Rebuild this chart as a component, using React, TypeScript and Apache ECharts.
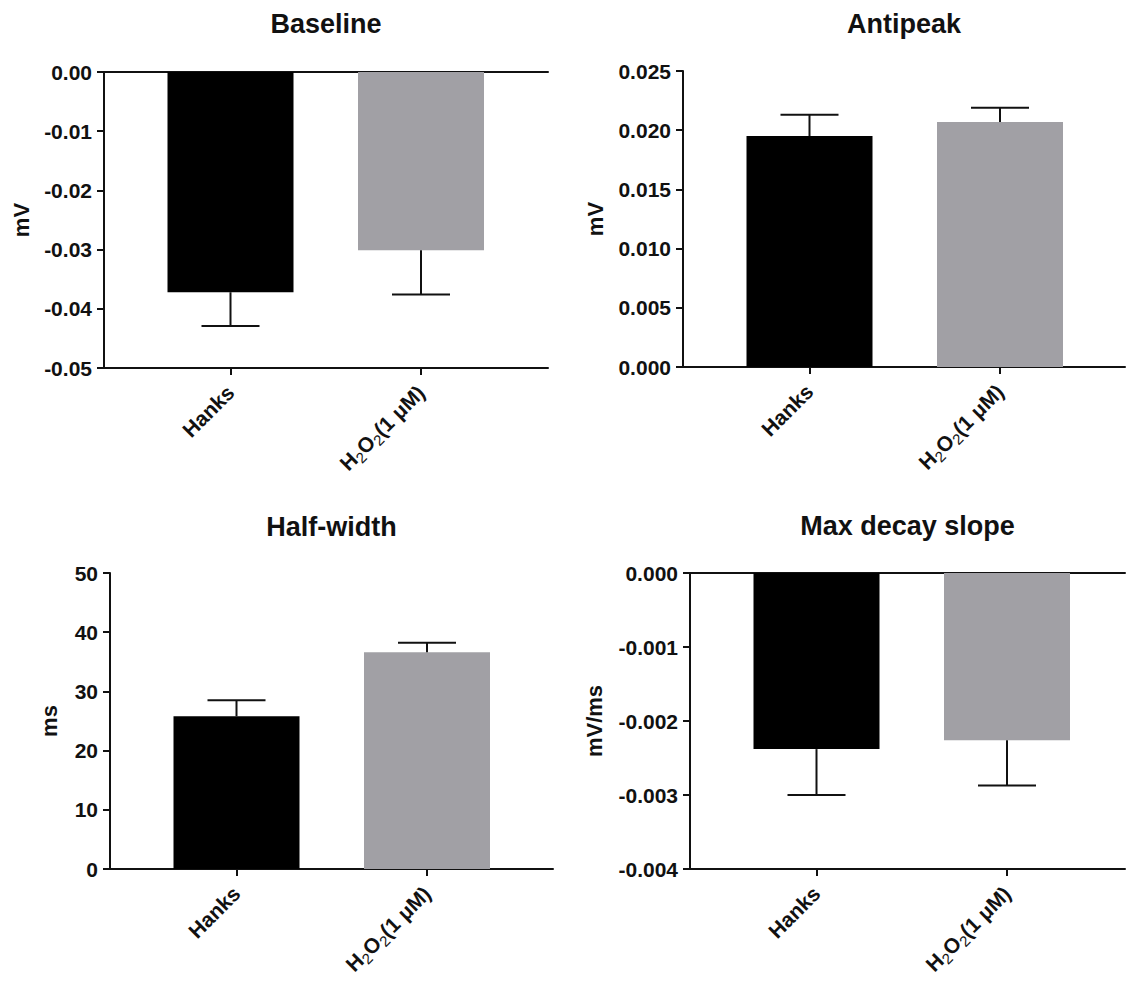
import React, { useEffect, useRef } from 'react';
import * as echarts from 'echarts';

// ---------- data ----------
const categories = ['Hanks', 'H₂O₂(1 μM)'];
const titles = ['Baseline', 'Antipeak', 'Half-width', 'Max decay slope'];
const units = ['mV', 'mV', 'ms', 'mV/ms'];
const baselineMean = [-0.0372, -0.0301];
const baselineSem = [0.0057, 0.0075];
const antipeakMean = [0.0195, 0.0207];
const antipeakSem = [0.0018, 0.0012];
const halfWidthMean = [25.8, 36.6];
const halfWidthSem = [2.7, 1.6];
const decayMean = [-0.00238, -0.00226];
const decaySem = [0.00062, 0.00061];
const yMins = [-0.05, 0, 0, -0.004];
const yMaxs = [0, 0.025, 50, 0];
const yIntervals = [0.01, 0.005, 10, 0.001];
const yDecimals = [2, 3, 0, 3];
const barColors = ['#000000', '#a1a0a5'];

const means = [baselineMean, antipeakMean, halfWidthMean, decayMean];
const sems = [baselineSem, antipeakSem, halfWidthSem, decaySem];

// ---------- layout ----------
const FONT = '"Liberation Sans", Arial, Helvetica, sans-serif';
const INK = '#111111';
const grids = [
  { left: 104, top: 72, width: 444, height: 296 },
  { left: 683, top: 71, width: 442, height: 296 },
  { left: 110, top: 573, width: 443, height: 296 },
  { left: 690, top: 573, width: 435, height: 296 },
];
const nameGaps = [72, 77, 50, 85];
const titleY = [24, 24, 527, 526];
const UNIT = 190.5; // px per category step
const LEAD = 126.5; // px from y axis to first category

function catLabel(v: number) {
  const name = categories[Math.round(v)] ?? '';
  return '{nm|' + name.replace(/₂/g, '}{sub|2}{nm|') + '}';
}

export default function App() {
  const ref = useRef<HTMLDivElement>(null);
  useEffect(() => {
    if (!ref.current) return;
    const chart = echarts.init(ref.current, undefined, { renderer: 'svg' });

    const xAxis: any[] = [];
    const yAxis: any[] = [];
    const series: any[] = [];
    const graphic: any[] = [];

    grids.forEach((g, i) => {
      const xMin = -LEAD / UNIT;
      const xMax = (g.width - LEAD) / UNIT;
      xAxis.push({
        type: 'value',
        gridIndex: i,
        min: xMin,
        max: xMax,
        position: 'bottom',
        axisLine: { show: true, onZero: false, lineStyle: { color: INK, width: 2 } },
        axisTick: {
          show: true,
          customValues: [0, 1],
          length: 7,
          lineStyle: { color: INK, width: 2 },
        },
        splitLine: { show: false },
        axisLabel: {
          customValues: [0, 1],
          rotate: 45,
          margin: 21,
          color: INK,
          fontSize: 21,
          fontWeight: 'bold',
          fontFamily: FONT,
          formatter: (v: number) => catLabel(v),
          rich: {
            nm: { fontSize: 21, fontWeight: 'bold', fontFamily: FONT, color: INK, lineHeight: 27 },
            sub: {
              fontSize: 15,
              fontWeight: 'normal',
              fontFamily: FONT,
              color: INK,
              lineHeight: 15,
              verticalAlign: 'bottom',
            },
          },
        },
      });
      yAxis.push({
        type: 'value',
        gridIndex: i,
        min: yMins[i],
        max: yMaxs[i],
        interval: yIntervals[i],
        name: units[i],
        nameLocation: 'middle',
        nameGap: nameGaps[i],
        nameTextStyle: { fontSize: 22, fontWeight: 'bold', fontFamily: FONT, color: INK },
        axisLine: { show: true, onZero: false, lineStyle: { color: INK, width: 2 } },
        axisTick: { show: true, length: 7, lineStyle: { color: INK, width: 2 } },
        splitLine: { show: false },
        axisLabel: {
          margin: 12,
          fontSize: 21,
          fontWeight: 'bold',
          fontFamily: FONT,
          color: INK,
          formatter: (v: number) => Math.abs(v) < 1e-12 ? (0).toFixed(yDecimals[i]) : v.toFixed(yDecimals[i]),
        },
      });
      series.push({
        type: 'bar',
        xAxisIndex: i,
        yAxisIndex: i,
        barWidth: 126,
        data: means[i].map((m, k) => ({ value: [k, m], itemStyle: { color: barColors[k] } })),
        z: 2,
      });
      series.push({
        type: 'custom',
        xAxisIndex: i,
        yAxisIndex: i,
        encode: { x: 0, y: 1 },
        data: means[i].map((m, k) => [k, m, sems[i][k]]),
        z: 3,
        renderItem: (params: any, api: any) => {
          const x = api.value(0);
          const m = api.value(1);
          const e = api.value(2);
          const end = m >= 0 ? m + e : m - e;
          const p0 = api.coord([x, m]);
          const p1 = api.coord([x, end]);
          const st = { stroke: INK, lineWidth: 2 };
          return {
            type: 'group',
            children: [
              { type: 'line', shape: { x1: p0[0], y1: p0[1], x2: p1[0], y2: p1[1] }, style: st },
              { type: 'line', shape: { x1: p1[0] - 29, y1: p1[1], x2: p1[0] + 29, y2: p1[1] }, style: st },
            ],
          };
        },
      });
      graphic.push({
        type: 'text',
        x: g.left + g.width / 2,
        y: titleY[i],
        style: {
          text: titles[i],
          fontSize: 27,
          fontWeight: 'bold',
          fontFamily: FONT,
          fill: INK,
          align: 'center',
          verticalAlign: 'middle',
        },
      });
    });

    // zero lines at top of panels with negative values
    [0, 3].forEach((i) => {
      const g = grids[i];
      xAxis.push({
        type: 'value',
        gridIndex: i,
        min: -LEAD / UNIT,
        max: (g.width - LEAD) / UNIT,
        position: 'top',
        axisLine: { show: true, onZero: false, lineStyle: { color: INK, width: 2 } },
        axisTick: { show: false },
        axisLabel: { show: false },
        splitLine: { show: false },
      });
    });

    chart.setOption({
      animation: false,
      backgroundColor: '#ffffff',
      textStyle: { fontFamily: FONT },
      grid: grids.map((g) => ({ ...g, containLabel: false })),
      xAxis,
      yAxis,
      series,
      graphic,
    });
    return () => chart.dispose();
  }, []);
  return (
    <div
      ref={ref}
      style={{ position: 'absolute', left: 0, top: 0, width: 1135, height: 983 }}
    />
  );
}
